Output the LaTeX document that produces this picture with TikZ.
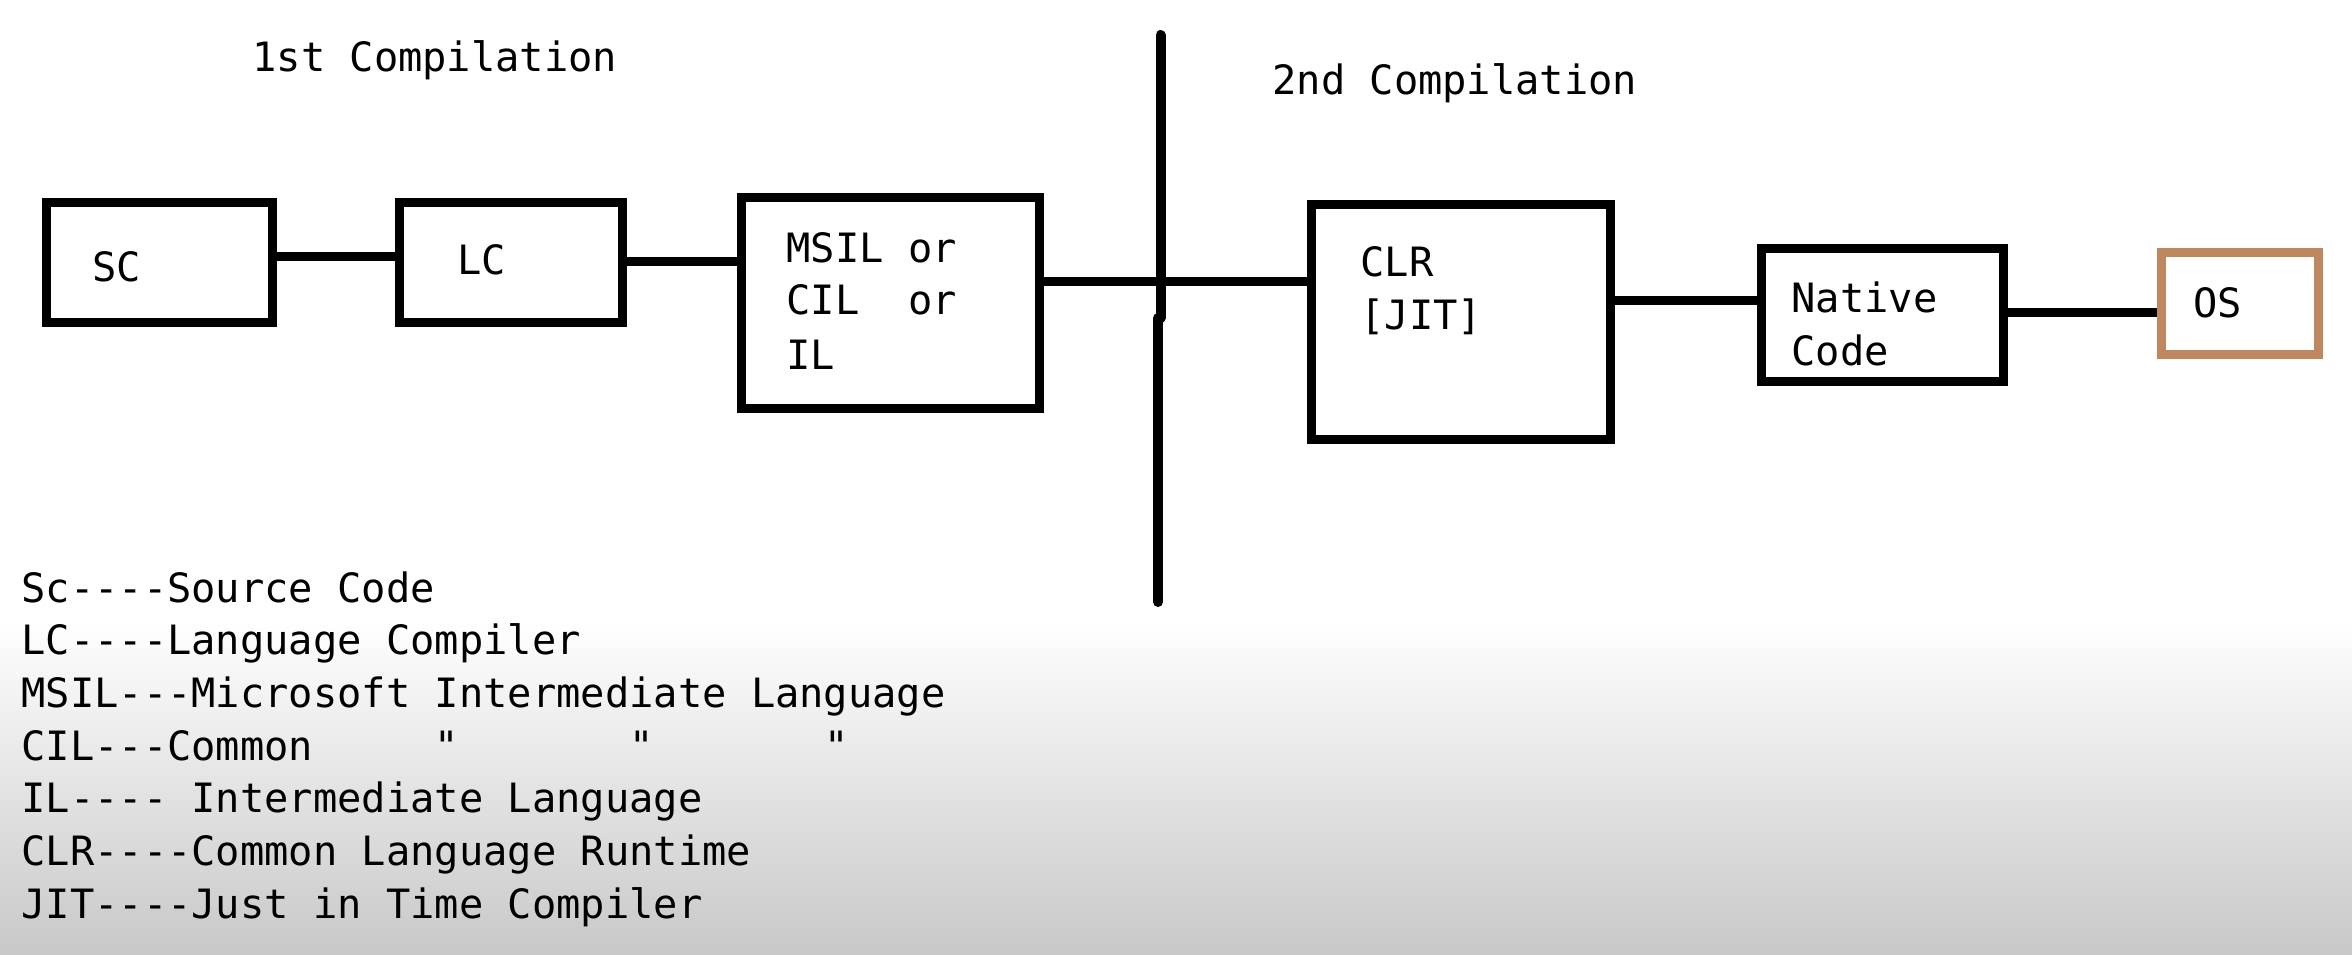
\documentclass[tikz,border=0pt]{standalone}
\usepackage{fontspec}
\setmonofont{DejaVu Sans Mono}
\definecolor{osbraun}{RGB}{192,134,94}
\definecolor{grau}{RGB}{200,200,200}

\begin{document}
\begin{tikzpicture}[x=0.5pt, y=-0.5pt,
    txt/.style={font=\ttfamily\fontsize{20.2}{24}\selectfont, inner sep=0pt, anchor=base west},
    kasten/.style={draw, line width=4.5pt, minimum width=#1, inner sep=0pt},
    linie/.style={line width=4.5pt}]
    \useasboundingbox (0,0) rectangle (2352,954);
    % Hintergrund mit Verlauf unten
    \fill[white] (0,0) rectangle (2352,954);
    \shade[top color=white, bottom color=grau] (0,620) rectangle (2352,954);

    % Ueberschriften
    \node[txt] (erste) at (252,71) {1st Compilation};
    \node[txt] (zweite) at (1272,94) {2nd Compilation};

    % Trennlinie zwischen den Compilierungen
    \coordinate (trennoben) at (1160.5,35);
    \coordinate (trennmitte) at (1160.5,318);
    \coordinate (trennmitte2) at (1158,318);
    \coordinate (trennunten) at (1158,602);
    \draw[line width=5pt, line cap=round] (trennoben) -- (trennmitte);
    \draw[line width=5pt, line cap=round] (trennmitte2) -- (trennunten);

    % Kaesten
    \node[kasten=113pt, minimum height=60pt] (sc) at (159.5,262) {};
    \node[kasten=111.5pt, minimum height=60pt] (lc) at (511,262) {};
    \node[kasten=149pt, minimum height=105.5pt] (msil) at (890.5,302.5) {};
    \node[kasten=149.5pt, minimum height=117.5pt] (clr) at (1461,321.5) {};
    \node[kasten=121pt, minimum height=66.5pt] (native) at (1882.5,314.5) {};
    \node[kasten=78.5pt, minimum height=51pt, draw=osbraun] (os) at (2240,303) {};

    % Beschriftung der Kaesten
    \node[txt] (sctext) at (92,281) {SC};
    \node[txt] (lctext) at (457,274) {LC};
    \node[txt] (msila) at (786,262) {MSIL or};
    \node[txt] (msilb) at (786,314) {CIL~~or};
    \node[txt] (msilc) at (786,369) {IL};
    \node[txt] (clra) at (1360,276) {CLR};
    \node[txt] (clrb) at (1360,329) {[JIT]};
    \node[txt] (nativea) at (1791,312) {Native};
    \node[txt] (nativeb) at (1791,365) {Code};
    \node[txt] (ostext) at (2193,317) {OS};

    % Verbindungen
    \draw[linie] (sc.east |- 0,256) -- (lc.west |- 0,256);
    \draw[linie] (lc.east |- 0,261) -- (msil.west |- 0,261);
    \draw[linie] (msil.east |- 0,281) -- (clr.west |- 0,281);
    \draw[linie] (clr.east |- 0,300) -- (native.west |- 0,300);
    \draw[linie] (native.east |- 0,312) -- (os.west |- 0,312);

    % Legende
    \node[txt] (leg1) at (21,602) {Sc----Source Code};
    \node[txt] (leg2) at (21,654.7) {LC----Language Compiler};
    \node[txt] (leg3) at (21,707.4) {MSIL---Microsoft Intermediate Language};
    \node[txt] (leg4) at (21,760.1) {CIL---Common~~~~~"~~~~~~~"~~~~~~~"};
    \node[txt] (leg5) at (21,812.8) {IL---- Intermediate Language};
    \node[txt] (leg6) at (21,865.5) {CLR----Common Language Runtime};
    \node[txt] (leg7) at (21,918.2) {JIT----Just in Time Compiler};
\end{tikzpicture}
\end{document}
